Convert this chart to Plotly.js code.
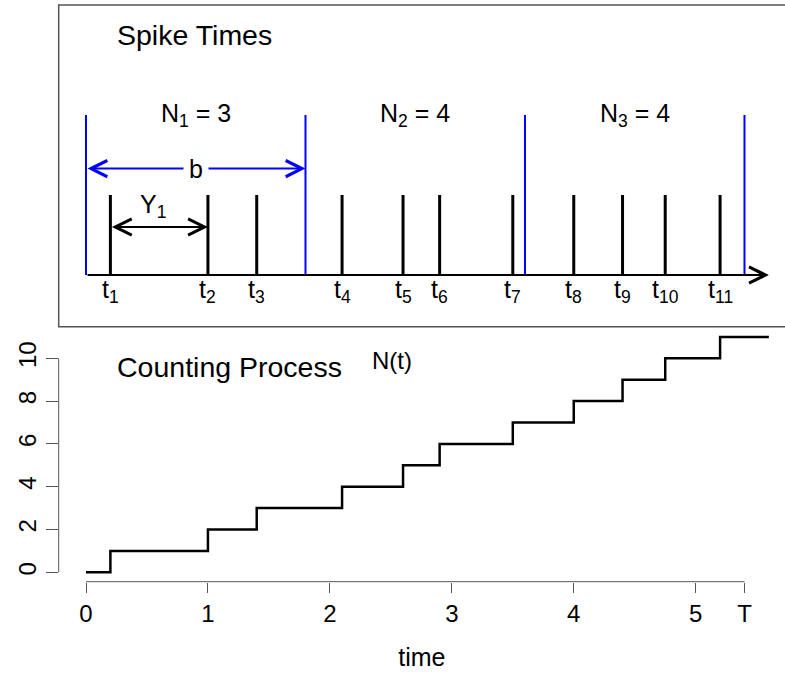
<!DOCTYPE html>
<html>
<head>
<meta charset="utf-8">
<script src="https://cdn.plot.ly/plotly-3.0.1.min.js"></script>
<style>
  html, body { margin: 0; padding: 0; background: #fff; }
  #chart { width: 785px; height: 673px; }
</style>
</head>
<body>
<div id="chart"></div>
<script>
// Spike times t1..t11 of the example train
const spikeTimes = [0.2, 1.0, 1.4, 2.1, 2.6, 2.9, 3.5, 4.0, 4.4, 4.75, 5.2];
// Counting-window edges (width b) and end of observation T
const binEdges = [0, 1.8, 3.6, 5.4];
const T_END = 5.4;
// Last time shown for the counting process
const T_MAX = 5.6;
// Axis ticks
const xTickVals = [0, 1, 2, 3, 4, 5, T_END];
const xTickText = ['0', '1', '2', '3', '4', '5', 'T'];
const yTickVals = [0, 2, 4, 6, 8, 10];

// Heights used in the spike-train panel
const SPIKE_H = 1;
const EDGE_H = 2;
const B_ARROW_Y = 1.33;
const Y1_ARROW_Y = 0.6;

// Spike counts per window
const binCounts = [];
for (let i = 0; i < binEdges.length - 1; i++) {
  binCounts.push(spikeTimes.filter(t => t >= binEdges[i] && t < binEdges[i + 1]).length);
}

// Counting process N(t): a step up at every spike
const stepX = [0].concat(spikeTimes, [T_MAX]);
const stepY = [0].concat(spikeTimes.map((_, i) => i + 1), [spikeTimes.length]);

// Vertical segments for spikes and window edges
function segments(xs, h) {
  const x = [], y = [];
  xs.forEach(v => { x.push(v, v, null); y.push(0, h, null); });
  return { x, y };
}
const spk = segments(spikeTimes, SPIKE_H);
const edg = segments(binEdges, EDGE_H);

// Page geometry (pixels)
const W = 785, H = 673;
const plotLeft = 58.7;
const xDom = [plotLeft / W, 1];
const bottomDom = [(H - 581.7) / H, (H - 327.5) / H];
const topDom = [(H - 326.7) / H, (H - 5) / H];
const pxPerUnit = 121.94;
const xZeroPx = 86;
const xRange = [-(xZeroPx - plotLeft) / pxPerUnit, (W - xZeroPx) / pxPerUnit];

const FONT = 'Liberation Sans, Arial, Helvetica, sans-serif';
const HEAD = 1.6;

const traces = [
  { x: stepX, y: stepY, xaxis: 'x', yaxis: 'y', type: 'scatter', mode: 'lines',
    line: { shape: 'hv', color: '#000', width: 2.5 }, hoverinfo: 'skip' },
  { x: spk.x, y: spk.y, xaxis: 'x', yaxis: 'y2', type: 'scatter', mode: 'lines',
    line: { color: '#000', width: 3 }, hoverinfo: 'skip' },
  { x: edg.x, y: edg.y, xaxis: 'x', yaxis: 'y2', type: 'scatter', mode: 'lines',
    line: { color: '#0000ff', width: 2 }, hoverinfo: 'skip' }
];

const ann = [];
// Panel headings
ann.push({ text: 'Spike Times', x: 0.235, y: 3.0, xref: 'x', yref: 'y2', xanchor: 'left', yanchor: 'middle',
  showarrow: false, font: { size: 28.5 } });
ann.push({ text: 'Counting Process', x: 0.24, y: 9.6, xref: 'x', yref: 'y', xanchor: 'left', yanchor: 'middle',
  showarrow: false, font: { size: 28.5 } });
ann.push({ text: 'N(t)', x: 2.33, y: 9.9, xref: 'x', yref: 'y', xanchor: 'left', yanchor: 'middle',
  showarrow: false, font: { size: 24 } });

// Time axis along the spike train
ann.push({ text: '', x: T_MAX, y: 0, ax: 0, ay: 0, xref: 'x', yref: 'y2', axref: 'x', ayref: 'y2',
  showarrow: true, arrowhead: 5, arrowsize: HEAD, arrowwidth: 2, arrowcolor: '#000' });

// Window width b
ann.push({ text: '', x: binEdges[1], y: B_ARROW_Y, ax: binEdges[0], ay: B_ARROW_Y,
  xref: 'x', yref: 'y2', axref: 'x', ayref: 'y2', showarrow: true, arrowside: 'end+start',
  arrowhead: 5, startarrowhead: 5, arrowsize: HEAD, startarrowsize: HEAD, arrowwidth: 2, arrowcolor: '#0000ff' });
ann.push({ text: 'b', x: (binEdges[0] + binEdges[1]) / 2, y: B_ARROW_Y, xref: 'x', yref: 'y2',
  showarrow: false, bgcolor: '#fff', borderpad: 5, font: { size: 25 } });

// Inter-spike interval Y1
ann.push({ text: '', x: spikeTimes[1], y: Y1_ARROW_Y, ax: spikeTimes[0], ay: Y1_ARROW_Y,
  xref: 'x', yref: 'y2', axref: 'x', ayref: 'y2', showarrow: true, arrowside: 'end+start',
  arrowhead: 5, startarrowhead: 5, arrowsize: HEAD, startarrowsize: HEAD, arrowwidth: 2, arrowcolor: '#000' });
ann.push({ text: 'Y<sub>1</sub>', x: 0.55, y: 0.86, xref: 'x', yref: 'y2', showarrow: false,
  font: { size: 25 } });

// Window counts
binCounts.forEach((n, i) => {
  ann.push({ text: 'N<sub>' + (i + 1) + '</sub> = ' + n, x: (binEdges[i] + binEdges[i + 1]) / 2, y: 2.0,
    xref: 'x', yref: 'y2', showarrow: false, font: { size: 25 } });
});

// Spike labels
spikeTimes.forEach((t, i) => {
  ann.push({ text: 't<sub>' + (i + 1) + '</sub>', x: t, y: -0.2, xref: 'x', yref: 'y2',
    showarrow: false, font: { size: 25 } });
});

const shapes = [
  // frame around the spike-train panel
  { type: 'rect', xref: 'paper', yref: 'paper', x0: xDom[0], x1: 1.1, y0: topDom[0], y1: topDom[1],
    line: { color: '#555', width: 1.5 }, fillcolor: 'rgba(0,0,0,0)' },
  // axis lines spanning only the tick range
  { type: 'line', xref: 'x', yref: 'y domain', x0: xTickVals[0], x1: xTickVals[xTickVals.length - 1], y0: 0, y1: 0,
    line: { color: '#555', width: 1 } },
  { type: 'line', xref: 'x domain', yref: 'y', x0: 0, x1: 0, y0: yTickVals[0], y1: yTickVals[yTickVals.length - 1],
    line: { color: '#555', width: 1 } }
];

const layout = {
  width: W, height: H,
  margin: { l: 0, r: 0, t: 0, b: 0 },
  paper_bgcolor: '#fff', plot_bgcolor: '#fff',
  showlegend: false,
  font: { family: FONT, color: '#000', size: 24 },
  xaxis: {
    domain: xDom, range: xRange, anchor: 'y',
    tickmode: 'array', tickvals: xTickVals, ticktext: xTickText,
    ticks: 'outside', ticklen: 10, tickwidth: 1, tickcolor: '#555',
    showline: false, zeroline: false, showgrid: false,
    tickfont: { size: 24 },
    title: { text: 'time', font: { size: 25 }, standoff: 22 }
  },
  yaxis: {
    domain: bottomDom, range: [-0.44, 11.44], anchor: 'x',
    tickmode: 'array', tickvals: yTickVals,
    ticks: 'outside', ticklen: 12, tickwidth: 1, tickcolor: '#555', tickangle: -90,
    showline: false, zeroline: false, showgrid: false,
    tickfont: { size: 24 }
  },
  yaxis2: {
    domain: topDom, range: [-0.646, 3.375], anchor: 'x',
    visible: false, showgrid: false, zeroline: false
  },
  annotations: ann,
  shapes: shapes
};

Plotly.newPlot('chart', traces, layout, { staticPlot: true, displayModeBar: false });
</script>
</body>
</html>
